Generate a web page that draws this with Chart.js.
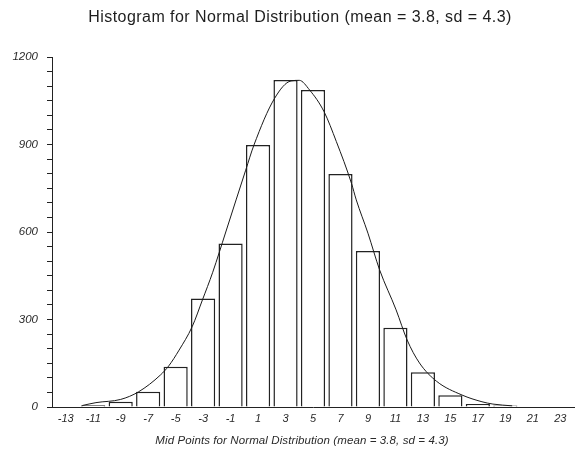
<!DOCTYPE html>
<html>
<head>
<meta charset="utf-8">
<script src="https://cdn.jsdelivr.net/npm/chart.js@4/dist/chart.umd.min.js"></script>
<style>
  html, body { margin: 0; padding: 0; background: #fff; }
  #wrap { width: 575px; height: 450px; }
</style>
</head>
<body>
<div id="wrap"><canvas id="c" width="575" height="450"></canvas></div>
<script>
// ---- data ----
const chartTitle = "Histogram for Normal Distribution (mean = 3.8, sd = 4.3)";
const xAxisTitle = "Mid Points for Normal Distribution (mean = 3.8, sd = 4.3)";
const binMidpoints = [-11, -9, -7, -5, -3, -1, 1, 3, 5, 7, 9, 11, 13, 15, 17, 19];
const binCounts    = [6, 18, 52, 138, 372, 561, 898, 1121, 1087, 799, 535, 272, 119, 40, 10, 5];
const curveX = [-11.8, -10.8, -9.0, -7.7, -6.1, -5.5, -4.75, -3.8, -3.05, -2.3, -1.35, -0.6, 0.1, 0.7, 2.2, 3.4, 4.0, 4.75, 5.8, 6.7, 7.8, 8.15, 9.0, 9.85, 11.05, 11.85, 12.75, 14.0, 15.85, 17.3, 18.1, 19.5];
const curveY = [5, 15, 26, 52, 110, 141, 195, 275, 367, 462, 600, 710, 812, 898, 1058, 1118, 1120, 1087, 1013, 910, 767, 710, 596, 470, 333, 230, 151, 88, 41, 18, 10, 4];
const xTickLabels = [-13, -11, -9, -7, -5, -3, -1, 1, 3, 5, 7, 9, 11, 13, 15, 17, 19, 21, 23];
const yTickLabels = [0, 300, 600, 900, 1200];

const barData = binMidpoints.map((x, i) => ({ x: x, y: binCounts[i] }));
const curveData = curveX.map((x, i) => ({ x: x, y: curveY[i] }));

const titlesPlugin = {
  id: 'titles',
  afterDraw(chart) {
    const ctx = chart.ctx;
    ctx.save();
    ctx.fillStyle = '#1e1e1e';
    ctx.textAlign = 'center';
    ctx.textBaseline = 'middle';
    ctx.font = '16px "Liberation Sans", Arial, sans-serif';
    ctx.letterSpacing = '0.45px';
    ctx.fillText(chartTitle, 300, 18);
    ctx.fillStyle = '#2a2a2a';
    ctx.font = 'italic 11.5px "Liberation Sans", Arial, sans-serif';
    ctx.letterSpacing = '0.1px';
    ctx.fillText(xAxisTitle, 302, 441);
    ctx.restore();
  }
};

new Chart(document.getElementById('c'), {
  data: {
    datasets: [
      {
        type: 'line',
        data: curveData,
        borderColor: '#1a1a1a',
        borderWidth: 1,
        pointRadius: 0,
        fill: false,
        cubicInterpolationMode: 'monotone',
        order: 0
      },
      {
        type: 'bar',
        data: barData,
        backgroundColor: '#ffffff',
        borderColor: '#222222',
        borderWidth: 1.5,
        borderSkipped: 'bottom',
        categoryPercentage: 1.0,
        barPercentage: 0.88,
        order: 1
      }
    ]
  },
  options: {
    responsive: false,
    animation: false,
    layout: { padding: { top: 57, right: 1, left: 0, bottom: 0 } },
    plugins: { legend: { display: false }, tooltip: { enabled: false }, title: { display: false } },
    scales: {
      x: {
        type: 'linear',
        min: -14,
        max: 24,
        offset: false,
        afterFit(scale) { scale.height = 43; },
        afterBuildTicks(scale) { scale.ticks = xTickLabels.map(v => ({ value: v })); },
        grid: { display: false, drawTicks: false, tickLength: 0 },
        border: { display: true, color: '#222', width: 1 },
        ticks: {
          autoSkip: false,
          maxRotation: 0,
          padding: 5,
          color: '#2a2a2a',
          font: { family: '"Liberation Sans", Arial, sans-serif', size: 11, style: 'italic' },
          callback: v => String(v)
        }
      },
      y: {
        type: 'linear',
        min: 0,
        max: 1200,
        afterFit(scale) { scale.width = 52; },
        grid: { display: true, drawOnChartArea: false, drawTicks: true, tickLength: 5, color: '#222', lineWidth: 1 },
        border: { display: true, color: '#222', width: 1 },
        ticks: {
          stepSize: 50,
          autoSkip: false,
          padding: 9,
          color: '#2a2a2a',
          font: { family: '"Liberation Sans", Arial, sans-serif', size: 11.5, style: 'italic' },
          callback: v => (yTickLabels.includes(v) ? String(v) : '')
        }
      }
    }
  },
  plugins: [titlesPlugin]
});
</script>
</body>
</html>
